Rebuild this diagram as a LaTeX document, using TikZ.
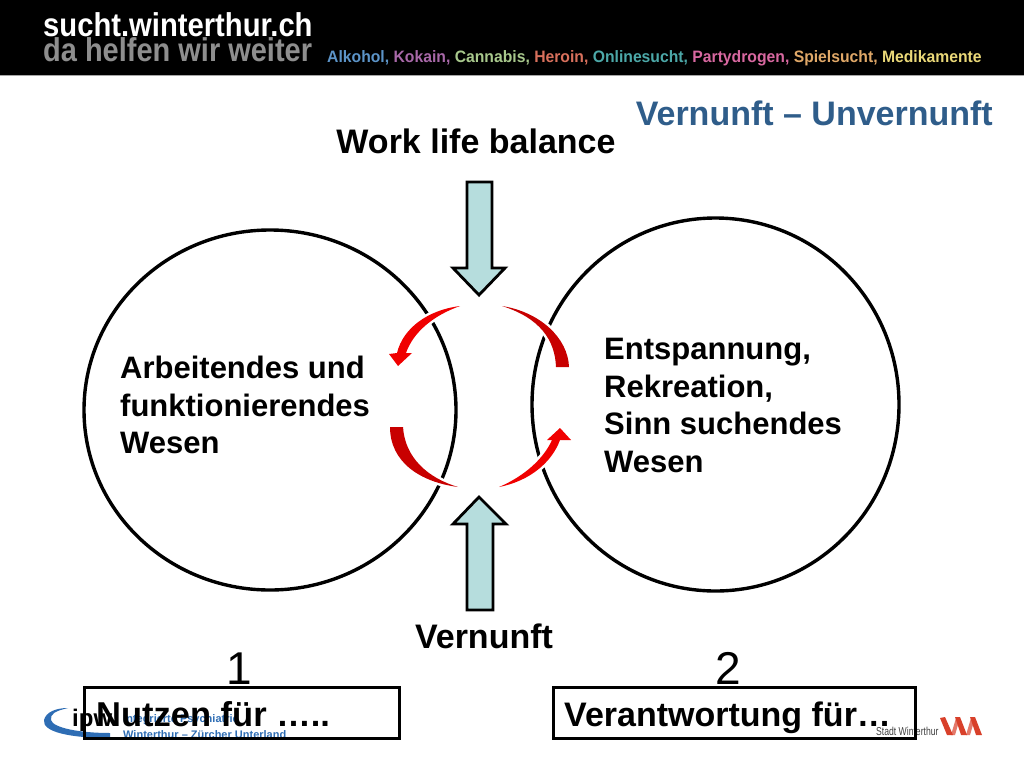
\documentclass[tikz,border=0pt]{standalone}
\usepackage{fontspec}
\usetikzlibrary{shapes.geometric}
\setmainfont{Liberation Sans}
\definecolor{hdgrey}{HTML}{8E8E8E}
\definecolor{titleblue}{HTML}{2F5D8A}
\definecolor{teal}{HTML}{B6DDDD}
\definecolor{logoblue}{HTML}{2E6DB4}
\definecolor{brightred}{HTML}{F00000}
\definecolor{darkred}{HTML}{C80000}
\definecolor{wred}{HTML}{D8402A}
\tikzset{
  bigcircle/.style={draw=black,line width=3.4pt},
  blockarrow/.style={draw=black,line width=2.8pt,fill=teal,line join=miter},
  swoosh/.style={preaction={draw=white,line width=5pt,line join=round},fill=#1},
  lbl/.style={font=\fontsize{#1}{#1}\selectfont\bfseries,inner sep=0pt,text=black},
  para/.style={font=\fontsize{31}{37.5}\selectfont\bfseries,inner sep=0pt,align=left,anchor=north west,text=black},
  hd/.style={font=\fontsize{16.5}{16.5}\selectfont\bfseries,inner sep=0pt,anchor=base west},
  framebox/.style={draw=black,line width=3pt}
}
\begin{document}
\begin{tikzpicture}[x=1pt,y=-1pt]
\useasboundingbox (0,0) rectangle (1024,768);
\fill[white] (0,0) rectangle (1024,768);
% header
\fill[black] (0,0) rectangle (1024,75);
\fill[gray!70] (0,75) rectangle (1024,76);
\node[inner sep=0pt,anchor=base west,text=hdgrey,font=\fontsize{33}{33}\selectfont\bfseries] (hdb) at (43,62) {\scalebox{0.878}[1]{da helfen wir weiter}};
\node[inner sep=0pt,anchor=base west,text=white,font=\fontsize{33}{33}\selectfont\bfseries] (hda) at (43,37) {\scalebox{0.885}[1]{sucht.winterthur.ch}};
\node[hd] (hlist) at (327,63) {\scalebox{0.953}[1]{\textcolor[HTML]{5C94C8}{Alkohol,} \textcolor[HTML]{A868A8}{Kokain,} \textcolor[HTML]{A8C88C}{Cannabis,} \textcolor[HTML]{D8705C}{Heroin,} \textcolor[HTML]{4CA8A8}{Onlinesucht,} \textcolor[HTML]{D868A0}{Partydrogen,} \textcolor[HTML]{E0A868}{Spielsucht,} \textcolor[HTML]{EAD878}{Medikamente}}};
% footer logos
\fill[logoblue] (110,738) .. controls (70,738) and (42,732) .. (44,720)
  .. controls (46,712) and (56,708) .. (68,708)
  .. controls (55,711) and (50,714) .. (51,720)
  .. controls (53,728) and (80,733) .. (110,733) -- cycle;
\node[inner sep=0pt,anchor=base west,font=\fontsize{24}{24}\selectfont\bfseries] (ipw) at (72,726) {ipw};
\node[inner sep=0pt,anchor=base west,text=logoblue,font=\fontsize{11}{11}\selectfont\bfseries] (ipwa) at (123,722) {Integrierte Psychiatrie};
\node[inner sep=0pt,anchor=base west,text=logoblue,font=\fontsize{11}{11}\selectfont\bfseries] (ipwb) at (123,738) {Winterthur – Zürcher Unterland};
\node[inner sep=0pt,anchor=base west,text=black!75,font=\fontsize{11.5}{11.5}\selectfont] (stadt) at (876,735) {\scalebox{0.75}[1]{Stadt Winterthur}};
\foreach \dx in {0,15}{
  \fill[wred!70] (951+\dx,735) -- (955+\dx,735) -- (960+\dx,718) -- (956+\dx,718) -- cycle;
}
\fill[wred] (970,717) -- (975,717) -- (982,735) -- (976,735) -- cycle;
\fill[wred] (955,717) -- (960,717) -- (967,735) -- (961,735) -- cycle;
\fill[wred] (940,718) -- (945,717) -- (953,735) -- (947,735) -- cycle;
% circles
\node[bigcircle,ellipse,minimum width=372pt,minimum height=360pt,inner sep=0pt] (left) at (270,410) {};
\node[bigcircle,ellipse,minimum width=367pt,minimum height=373pt,inner sep=0pt] (right) at (715.5,404.5) {};
% block arrows
\draw[blockarrow] (467,182) -- (492,182) -- (492,268) -- (505,268) -- (479,295) -- (453,268) -- (467,268) -- cycle;
\draw[blockarrow] (467,610) -- (493,610) -- (493,524) -- (506,524) -- (479,497) -- (453,524) -- (467,524) -- cycle;
% red arrows
\path[swoosh=brightred] (460,306) .. controls (428,310) and (403,328) .. (397,353) -- (389,354) -- (398,366) -- (412,353) -- (406,353) .. controls (413,333) and (432,316) .. (460,306) -- cycle;
\path[swoosh=darkred] (502,306) .. controls (540,318) and (555,340) .. (556,367) -- (569,367) .. controls (568,338) and (540,312) .. (502,306) -- cycle;
\path[swoosh=darkred] (390,427) -- (403,427) .. controls (405,458) and (428,478) .. (458,487) .. controls (420,482) and (390,462) .. (390,427) -- cycle;
\path[swoosh=brightred] (499,487) .. controls (530,481) and (552,462) .. (560,440) -- (571,440) -- (560,428) -- (547,440) -- (552,440)
  .. controls (544,458) and (525,476) .. (499,487) -- cycle;
% texts
\node[lbl=34,text=titleblue,anchor=base east] (title) at (993,125) {Vernunft – Unvernunft};
\node[lbl=34,anchor=base] (wlb) at (476,153) {Work life balance};
\node[para] (ltext) at (120,356) {Arbeitendes und\\funktionierendes\\Wesen};
\node[para] (rtext) at (604,338) {Entspannung,\\Rekreation,\\Sinn suchendes\\Wesen};
\node[lbl=34,anchor=base] (vern) at (484,648) {Vernunft};
\node[inner sep=0pt,anchor=base,font=\fontsize{46}{46}\selectfont] (one) at (239,684) {1};
\node[inner sep=0pt,anchor=base,font=\fontsize{46}{46}\selectfont] (two) at (728,684) {2};
\draw[framebox] (84,687) rectangle (399,738);
\draw[framebox] (553,687) rectangle (915,738);
\node[lbl=34.5,anchor=base west] (nutzen) at (96,726) {Nutzen für …..};
\node[lbl=34,anchor=base west] (verant) at (564,726) {Verantwortung für…};
\end{tikzpicture}
\end{document}
